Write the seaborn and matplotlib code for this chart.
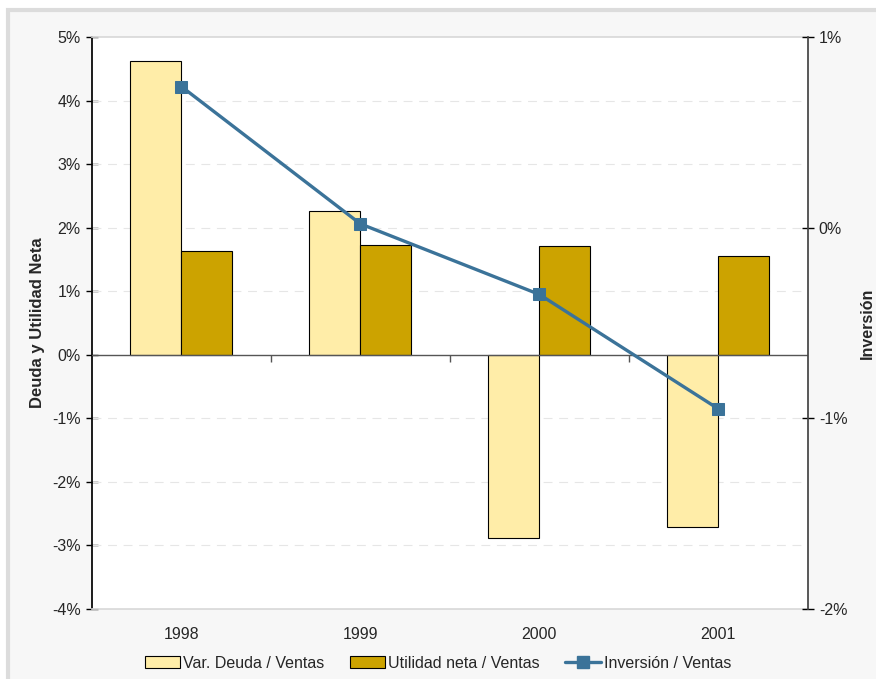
import numpy as np
import pandas as pd
import seaborn as sns
import matplotlib.pyplot as plt
from matplotlib.patches import Patch, Rectangle
from matplotlib.lines import Line2D
from matplotlib.ticker import FuncFormatter

# === Data ===
years = ["1998", "1999", "2000", "2001"]
var_deuda = [4.62, 2.27, -2.88, -2.71]      # Var. Deuda / Ventas (%)
utilidad = [1.63, 1.72, 1.71, 1.56]         # Utilidad neta / Ventas (%)
inversion = [0.74, 0.02, -0.35, -0.95]      # Inversión / Ventas (%)

series_names = ["Var. Deuda / Ventas", "Utilidad neta / Ventas", "Inversión / Ventas"]
c_yellow = "#FFEDA8"
c_gold = "#CCA300"
c_line = "#3B7399"

df = pd.DataFrame({
    "year": years * 2,
    "value": var_deuda + utilidad,
    "serie": [series_names[0]] * 4 + [series_names[1]] * 4,
})

# === Style ===
sns.set_theme(style="white")
plt.rcParams["font.family"] = ["Liberation Sans", "DejaVu Sans"]
plt.rcParams["font.size"] = 11.5

fig = plt.figure(figsize=(8.76, 6.79), dpi=100, facecolor="white")
# outer grey panel
fig.patches.append(Rectangle((8 / 876, -0.01), 1.0, 1 - 10 / 679 + 0.01, transform=fig.transFigure,
                             facecolor="#f7f7f7", edgecolor="#dcdcdc", linewidth=3, zorder=-10))

ax = fig.add_axes([0.105, 0.1031, 0.817, 0.8424])
ax.set_facecolor("white")

sns.barplot(data=df, x="year", y="value", hue="serie", palette=[c_yellow, c_gold], saturation=1,
            width=0.57, edgecolor="black", linewidth=0.8, ax=ax, legend=False, zorder=3)

ax.set_xlim(-0.5, 3.5)
ax.set_ylim(-4, 5)
ax.set_yticks(np.arange(-4, 6, 1))
ax.yaxis.set_major_formatter(FuncFormatter(lambda v, p: f"{v:.0f}%"))
ax.tick_params(axis="y", direction="inout", length=8, width=1, color="black", labelsize=11.5, pad=4)
ax.tick_params(axis="x", length=0, labelsize=11.5, pad=13)
ax.set_xlabel("")
ax.set_ylabel("Deuda y Utilidad Neta", fontsize=12, fontweight="bold", labelpad=5)

for v in range(-4, 6):
    if v not in (0, 5, -4):
        ax.axhline(v, color="#e6e6e6", linewidth=0.8, linestyle=(0, (8, 6)), zorder=1)
ax.axhline(0, color="#555555", linewidth=1.0, zorder=4)

ax.spines["left"].set_color("black")
ax.spines["top"].set_color("#d9d9d9")
ax.spines["bottom"].set_color("#d9d9d9")
ax.spines["right"].set_visible(False)

# tick marks between categories on the zero line
sec = ax.secondary_xaxis(4 / 9)
sec.set_xticks([0.5, 1.5, 2.5])
sec.set_xticklabels([])
sec.tick_params(direction="out", length=5, width=1, color="#555555")
sec.spines["bottom"].set_visible(False)

# === Right axis: Inversión ===
ax2 = ax.twinx()
sns.lineplot(x=np.arange(len(years)), y=inversion, ax=ax2, color=c_line, linewidth=2.4,
             marker="s", markersize=8.5, markeredgecolor=c_line, zorder=5)
ax2.set_ylim(-2, 1)
ax2.set_yticks([-2, -1, 0, 1])
ax2.yaxis.set_major_formatter(FuncFormatter(lambda v, p: f"{v:.0f}%"))
ax2.tick_params(axis="y", direction="inout", length=8, width=1, color="black", labelsize=11.5, pad=4)
ax2.set_ylabel("Inversión", fontsize=11.5, fontweight="bold", rotation=90, va="center")
ax2.yaxis.set_label_coords(1.083, 0.5)
for s in ["left", "top", "bottom"]:
    ax2.spines[s].set_visible(False)
ax2.spines["right"].set_color("#444444")
ax2.grid(False)

# === Legend ===
handles = [
    Patch(facecolor=c_yellow, edgecolor="black", linewidth=0.8),
    Patch(facecolor=c_gold, edgecolor="black", linewidth=0.8),
    Line2D([0], [0], color=c_line, linewidth=2.4, marker="s", markersize=8.5),
]
fig.legend(handles, series_names, loc="center", bbox_to_anchor=(0.5, 1 - 663 / 679), ncol=3,
           frameon=False, fontsize=11.5, handlelength=2.2, handletextpad=0.2, columnspacing=1.6)

plt.savefig("out.png", dpi=100, facecolor=fig.get_facecolor())
